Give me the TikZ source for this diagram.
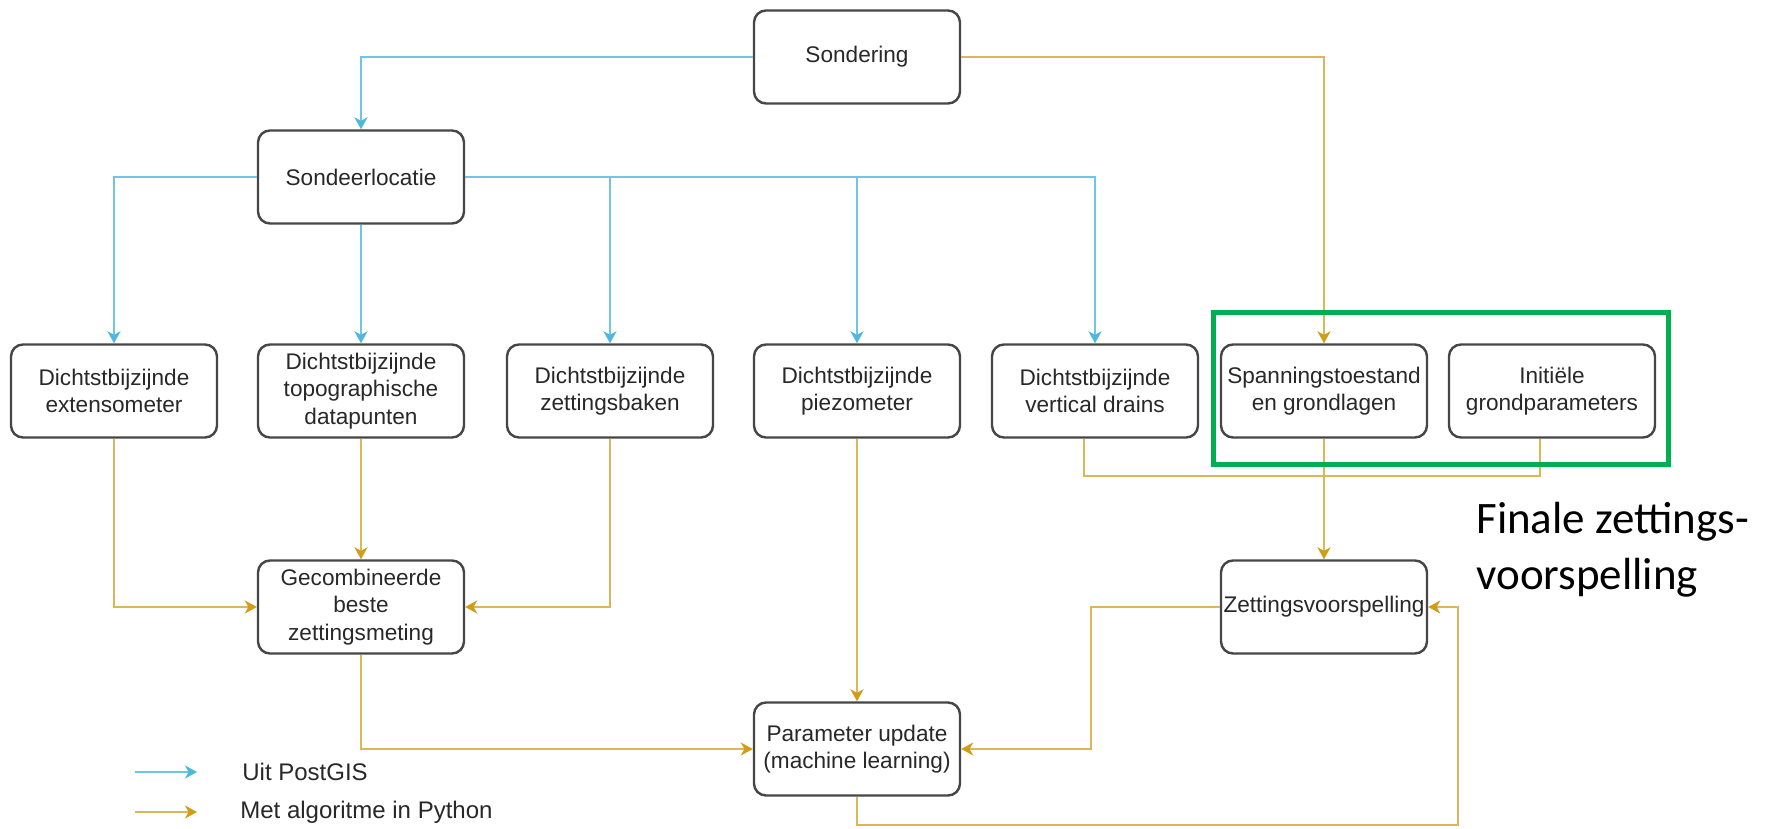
\documentclass[tikz,border=0pt]{standalone}
\usepackage{fontspec}
\setmainfont{Liberation Sans}
\newfontfamily\calib{Carlito}
\usetikzlibrary{arrows.meta}

\definecolor{boxgray}{RGB}{70,70,70}
\definecolor{textgray}{RGB}{40,40,40}
\definecolor{bline}{RGB}{110,198,228}
\definecolor{bhead}{RGB}{75,184,224}
\definecolor{yline}{RGB}{220,182,88}
\definecolor{yhead}{RGB}{210,156,22}
\definecolor{frame}{RGB}{0,176,80}

\begin{document}
\begin{tikzpicture}[
  x=0.5pt, y=-0.5pt,
  box/.style={draw=boxgray, line width=1.2pt, rounded corners=6pt, fill=white,
    minimum width=103pt, minimum height=46.5pt, inner sep=1pt, align=center,
    text=textgray, font=\fontsize{11.3}{13.7}\selectfont},
  blue/.style={draw=bline, line width=1pt},
  gold/.style={draw=yline, line width=1pt},
  barrow/.style={blue, -{Stealth[length=6pt,width=6.5pt,inset=1.8pt,color=bhead]}},
  yarrow/.style={gold, -{Stealth[length=6pt,width=6.5pt,inset=1.8pt,color=yhead]}},
  legend/.style={anchor=west, text=textgray, font=\fontsize{12}{14}\selectfont, inner sep=0pt},
  note/.style={anchor=base west, inner sep=0pt, text=black, font=\calib\fontsize{22.5}{28}\selectfont}
]
\path[use as bounding box, fill=white] (0,0) rectangle (1769,829);

% boxes
\node[box] (son)    at (857,57)   {Sondering};
\node[box] (loc)    at (361,177)  {Sondeerlocatie};
\node[box] (ext)    at (114,391)  {Dichtstbijzijnde\\extensometer};
\node[box] (topo)   at (361,391)  {Dichtstbijzijnde\\topographische\\datapunten};
\node[box] (bak)    at (610,391)  {Dichtstbijzijnde\\zettingsbaken};
\node[box] (piezo)  at (857,391)  {Dichtstbijzijnde\\piezometer};
\node[box] (drains) at (1095,391) {Dichtstbijzijnde\\vertical drains};
\node[box] (span)   at (1324,391) {Spanningstoestand\\en grondlagen};
\node[box] (init)   at (1552,391) {Initiële\\grondparameters};
\node[box] (comb)   at (361,607)  {Gecombineerde\\beste\\zettingsmeting};
\node[box] (zet)    at (1324,607) {Zettingsvoorspelling};
\node[box] (par)    at (857,749)  {Parameter update\\(machine learning)};

% data taken from PostGIS
\draw[barrow] (son.west) -| (loc.north);
\draw[barrow] (loc.west) -| (ext.north);
\draw[barrow] (loc.south) -- (topo.north);
\draw[barrow] (loc.east) -| (bak.north);
\draw[barrow] (loc.east) -| (piezo.north);
\draw[barrow] (loc.east) -| (drains.north);

% processing steps in Python
\draw[yarrow] (son.east) -| (span.north);
\draw[yarrow] (ext.south) |- (comb.west);
\draw[yarrow] (topo.south) -- (comb.north);
\draw[yarrow] (bak.south) |- (comb.east);
\draw[yarrow] (comb.south) |- (par.west);
\draw[yarrow] (piezo.south) -- (par.north);

\coordinate (brk) at (1300,476);
\draw[gold] ([xshift=-5.5pt]drains.south) |- (brk) -| ([xshift=-6pt]init.south);
\draw[yarrow] (span.south) -- (zet.north);

\coordinate (fbA) at (1091,607);
\draw[yarrow] (zet.west) -- (fbA) |- (par.east);
\coordinate (fbB) at (1458,825);
\draw[yarrow] (par.south) |- (fbB) |- (zet.east);

% highlighted inputs
\draw[draw=frame, line width=2.5pt] (1213,312) rectangle (1668,464);
\node[note] (fin1) at (1476,533) {Finale zettings-};
\node[note] (fin2) at (1476,589) {voorspelling};

% legend
\coordinate (l1a) at (135,772);
\coordinate (l1b) at (197,772);
\coordinate (l2a) at (135,812);
\coordinate (l2b) at (197,812);
\draw[barrow] (l1a) -- (l1b);
\draw[yarrow] (l2a) -- (l2b);
\node[legend] (lg1) at (242,772) {Uit PostGIS};
\node[legend] (lg2) at (240,812) {Met algoritme in Python};
\end{tikzpicture}
\end{document}
